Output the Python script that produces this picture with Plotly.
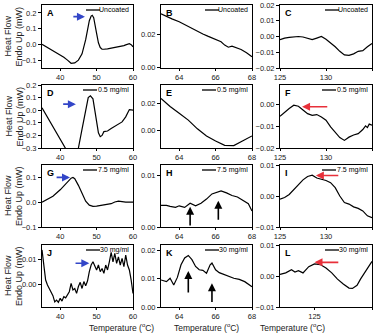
import plotly.graph_objects as go
from plotly.subplots import make_subplots

FUENTE = "Arial, Liberation Sans, sans-serif"
W, H = 378, 334

# -- Datos ----------------------------------------------------------------------
a_t = [35, 36, 37, 38, 39, 40, 41, 42, 43, 44, 45, 46, 46.5, 47, 47.5, 48, 48.5, 48.8, 49.2, 49.6, 50, 50.5, 51, 51.5,
       52, 53, 54, 55, 56, 57, 57.5, 58, 58.5, 59, 59.5, 60]
a_y = [0.0, -0.013, -0.026, -0.04, -0.052, -0.065, -0.082, -0.1, -0.12, -0.118, -0.1, -0.06, -0.02, 0.03, 0.09, 0.15,
       0.18, 0.185, 0.17, 0.13, 0.07, 0.01, -0.02, -0.03, -0.031, -0.028, -0.024, -0.02, -0.016, -0.012, -0.008,
       -0.003, 0.003, 0.004, -0.002, -0.015]

b_t = [63, 63.3, 63.6, 64, 64.3, 64.6, 65, 65.3, 65.6, 66, 66.3, 66.5, 66.7, 66.9, 67.1, 67.4, 67.7, 68]
b_y = [0.0326, 0.031, 0.0295, 0.0278, 0.026, 0.0242, 0.0216, 0.0203, 0.0188, 0.0168, 0.0155, 0.0135, 0.0122, 0.0128,
       0.0118, 0.0108, 0.0088, 0.0064]

c_t = [125, 125.5, 126, 126.5, 127, 127.5, 128, 128.5, 129, 129.5, 130, 130.5, 131, 131.5, 132, 132.5, 133, 133.5,
       134, 134.5, 135]
c_y = [-0.002, -0.001, -0.0006, -0.0004, 0.0, -0.0003, -0.001, -0.002, -0.001, 0.0, -0.0017, -0.004, -0.0065,
       -0.0094, -0.0117, -0.012, -0.011, -0.0094, -0.009, -0.0065, -0.0045]

d_t = [35, 36, 37, 38, 39, 40, 41, 42, 43, 44, 44.5, 45, 46, 47, 47.7, 48.3, 49, 49.5, 50, 50.5, 51, 51.5, 52, 53,
       54, 55, 56, 57, 58, 59, 60]
d_y = [0.02, -0.03, -0.08, -0.13, -0.18, -0.23, -0.28, -0.33, -0.38, -0.36, -0.33, -0.3, -0.15, 0.0, 0.1, 0.114,
       0.09, 0.0, -0.1, -0.18, -0.21, -0.2, -0.17, -0.165, -0.146, -0.128, -0.11, -0.093, -0.053, 0.005, 0.0]

e_t = [63, 63.5, 64, 64.5, 65, 65.5, 66, 66.5, 67, 67.5, 68]
e_y = [0.0239, 0.018, 0.013, 0.0078, 0.0013, -0.004, -0.0078, -0.011, -0.0112, -0.0078, -0.004]

f_t = [125, 125.5, 126, 126.5, 127, 127.5, 128, 128.5, 129, 129.5, 130, 130.5, 131, 131.5, 132, 132.5, 133, 133.5,
       134, 134.3, 134.5, 134.7, 135]
f_y = [-0.0054, -0.0034, -0.0018, -0.0003, -0.0008, -0.0025, -0.0042, -0.005, -0.0046, -0.0057, -0.0072, -0.0103,
       -0.013, -0.0152, -0.0165, -0.015, -0.014, -0.0134, -0.0115, -0.0098, -0.0106, -0.009, -0.0095]

g_t = [35, 37, 38, 40, 41, 42, 43, 43.5, 44, 45, 46, 47, 48, 49, 50, 52, 54, 55, 56, 57, 58, 60]
g_y = [0.0, 0.017, 0.024, 0.05, 0.065, 0.084, 0.097, 0.1, 0.095, 0.068, 0.037, 0.004, -0.012, -0.017, -0.016, -0.012,
       -0.006, 0.001, 0.004, 0.002, 0.0, 0.0]

h_t = [63, 63.3, 63.5, 63.8, 64, 64.3, 64.6, 64.9, 65.2, 65.5, 65.8, 66, 66.3, 66.6, 66.9, 67.2, 67.5, 67.8, 68]
h_y = [0.0042, 0.0042, 0.004, 0.0038, 0.0041, 0.0038, 0.0046, 0.0041, 0.0046, 0.0054, 0.0064, 0.0067, 0.007, 0.0066,
       0.0061, 0.0058, 0.0051, 0.0045, 0.0031]

i_t = [125, 125.5, 126, 126.5, 127, 127.5, 128, 128.5, 129, 129.5, 130, 130.5, 131, 131.5, 132, 132.5, 133, 133.5,
       134, 134.5, 135]
i_y = [-0.001, -0.0005, 0.0005, 0.002, 0.0036, 0.0052, 0.0063, 0.0067, 0.0058, 0.0055, 0.005, 0.0043, 0.0027, 0.0,
       -0.0021, -0.0026, -0.0035, -0.004, -0.0048, -0.0064, -0.007]

j_t = [35, 35.5, 36, 36.5, 37, 38, 38.5, 39, 39.5, 40, 40.5, 41, 41.5, 42, 42.5, 43, 43.5, 44, 44.5, 45, 45.5, 46,
       46.5, 47, 47.5, 48, 48.5, 49, 49.5, 50, 50.5, 51, 51.5, 52, 52.5, 53, 53.5, 54, 54.5, 55, 55.5, 56, 56.5, 57,
       57.5, 58, 58.5, 59, 59.5, 60]
j_y = [0.0138, 0.0077, 0.0016, -0.0004, -0.0018, -0.0047, -0.0072, -0.0065, -0.0074, -0.0058, -0.0069, -0.0051,
       -0.0056, -0.0042, -0.0031, 0.0003, -0.0024, -0.0018, -0.0038, -0.001, 0.0007, -0.0018, 0.001, -0.0007, 0.0012,
       0.005, 0.0077, 0.009, 0.007, 0.0057, 0.0077, 0.005, 0.0063, 0.0043, 0.0077, 0.0057, 0.009, 0.0128, 0.009,
       0.0124, 0.0084, 0.011, 0.0077, 0.0104, 0.007, 0.0117, 0.0077, 0.0057, 0.0016, -0.0038]

k_t = [63, 63.3, 63.5, 63.7, 63.9, 64.1, 64.3, 64.5, 64.7, 64.9, 65.1, 65.3, 65.5, 65.7, 65.8, 66, 66.2, 66.5, 66.8,
       67, 67.3, 67.6, 68]
k_y = [0.0096, 0.009, 0.0102, 0.0078, 0.0105, 0.015, 0.0174, 0.0183, 0.0168, 0.0144, 0.0132, 0.013, 0.012, 0.015,
       0.0156, 0.0132, 0.0122, 0.0114, 0.0108, 0.0102, 0.0098, 0.009, 0.0072]

l_t = [122, 122.5, 123, 123.3, 123.6, 124, 124.5, 125, 125.5, 126, 126.5, 127, 127.5, 128, 128.3, 128.7, 129, 129.5,
       130]
l_y = [0.0005, 0.001, 0.002, 0.0013, 0.0017, 0.001, 0.003, 0.0039, 0.0037, 0.0026, 0.001, -0.001, -0.0026, -0.0039,
       -0.004, -0.003, -0.001, 0.002, 0.0047]

paneles = [
    # letra, t, y, rango x, ticks x, rango y, ticks y, formato, leyenda
    ("A", a_t, a_y, [35, 60], [40, 50, 60], [-0.15, 0.25], [-0.1, 0.0, 0.1, 0.2], ".1f", "Uncoated"),
    ("B", b_t, b_y, [63, 68], [64, 66, 68], [-0.0005, 0.038], [0.0, 0.02], ".2f", "Uncoated"),
    ("C", c_t, c_y, [125, 135], [125, 130, 135], [-0.02, 0.02], [-0.02, -0.01, 0.0, 0.01, 0.02], ".2f", "Uncoated"),
    ("D", d_t, d_y, [35, 60], [40, 50, 60], [-0.3, 0.2], [-0.3, -0.2, -0.1, 0.0, 0.1, 0.2], ".1f", "0.5 mg/ml"),
    ("E", e_t, e_y, [63, 68], [64, 66, 68], [-0.013, 0.034], [0.0, 0.02], ".2f", "0.5 mg/ml"),
    ("F", f_t, f_y, [125, 135], [125, 130, 135], [-0.02, 0.009], [-0.02, -0.01, 0.0], ".2f", "0.5 mg/ml"),
    ("G", g_t, g_y, [35, 60], [40, 50, 60], [-0.1, 0.15], [-0.1, 0.0, 0.1], ".1f", "7.5 mg/ml"),
    ("H", h_t, h_y, [63, 68], [64, 66, 68], [0.0, 0.012], [0.0, 0.01], ".2f", "7.5 mg/ml"),
    ("I", i_t, i_y, [125, 135], [125, 130, 135], [-0.01, 0.01], [-0.01, 0.0, 0.01], ".2f", "7.5 mg/ml"),
    ("J", j_t, j_y, [35, 60], [40, 50, 60], [-0.0093, 0.0158], [0.0, 0.01], ".2f", "30 mg/ml"),
    ("K", k_t, k_y, [63, 68], [64, 66, 68], [0.0, 0.022], [0.0, 0.01, 0.02], ".2f", "30 mg/ml"),
    ("L", l_t, l_y, [122, 130], [125, 130], [-0.01, 0.01], [-0.01, 0.0, 0.01], ".2f", "30 mg/ml"),
]

# Flechas: (panel, x cabeza, y cabeza, x cola, y cola, color)
flechas = [
    (1, 46.8, 0.176, 43.2, 0.176, "#3346c8"),
    (4, 44.3, 0.048, 40.4, 0.048, "#3346c8"),
    (7, 42.7, 0.1, 38.6, 0.1, "#3346c8"),
    (10, 48.0, 0.0084, 43.8, 0.0084, "#3346c8"),
    (6, 127.4, -0.001, 130.3, -0.001, "#e8303a"),
    (9, 128.9, 0.0066, 131.5, 0.0066, "#e8303a"),
    (12, 125.0, 0.0044, 127.2, 0.0044, "#e8303a"),
    (8, 64.6, 0.0039, 64.6, 0.0, "black"),
    (8, 66.15, 0.0051, 66.15, 0.0011, "black"),
    (11, 64.5, 0.0128, 64.5, 0.0046, "black"),
    (11, 65.8, 0.0084, 65.8, 0.0012, "black"),
]

# -- Geometria en pixeles ------------------------------------------------------
columnas_px = [(42, 133), (161, 252), (280, 372)]
filas_px = [(5, 68), (85, 148), (165, 227), (245, 307)]
ancho_texto = {"Uncoated": 29, "0.5 mg/ml": 32, "7.5 mg/ml": 32, "30 mg/ml": 29}

fig = make_subplots(rows=4, cols=3)

for n, (letra, t, y, xr, xt, yr, yt, fmt, leyenda) in enumerate(paneles):
    fila, col = n // 3, n % 3
    idx = n + 1
    sfx = "" if idx == 1 else str(idx)
    x0, x1 = columnas_px[col]
    y0, y1 = filas_px[fila]

    fig.add_trace(go.Scatter(x=t, y=y, mode="lines", line=dict(color="black", width=1.2),
                             showlegend=False, hoverinfo="skip"), row=fila + 1, col=col + 1)

    comun = dict(showline=True, linecolor="black", linewidth=1, mirror=True, ticks="outside",
                 tickcolor="black", showgrid=False, zeroline=False, automargin=False,
                 tickfont=dict(family=FUENTE, size=7.5, color="#222"))
    fig.layout["xaxis" + sfx].update(domain=[x0 / W, x1 / W], range=xr, tickvals=xt, ticklen=2, **comun)
    fig.layout["yaxis" + sfx].update(domain=[1 - y1 / H, 1 - y0 / H], range=yr, tickvals=yt, tickformat=fmt,
                                     ticklen=3, **comun)

    xref, yref = "x" + sfx + " domain", "y" + sfx + " domain"
    pw = x1 - x0
    ph = y1 - y0
    # letra del panel
    fig.add_annotation(text="<b>" + letra + "</b>", xref=xref, yref=yref, x=3 / pw, y=1 - 1 / ph,
                       xanchor="left", yanchor="top", showarrow=False,
                       font=dict(family=FUENTE, size=9, color="black"))
    # leyenda
    tw = ancho_texto[leyenda]
    fig.add_annotation(text=leyenda, xref=xref, yref=yref, x=1 - 2 / pw, y=1 - 5 / ph, xanchor="right",
                       yanchor="middle", showarrow=False, font=dict(family=FUENTE, size=7, color="black"))
    lx1 = 1 - (4 + tw) / pw
    fig.add_shape(type="line", xref=xref, yref=yref, x0=lx1 - 14 / pw, x1=lx1, y0=1 - 5 / ph, y1=1 - 5 / ph,
                  line=dict(color="black", width=1.3))

for idx, xh, yh, xc, yc, color in flechas:
    sfx = "" if idx == 1 else str(idx)
    fig.add_annotation(x=xh, y=yh, ax=xc, ay=yc, xref="x" + sfx, yref="y" + sfx, axref="x" + sfx,
                       ayref="y" + sfx, text="", showarrow=True, arrowhead=2, arrowsize=1,
                       arrowwidth=1.6, arrowcolor=color)

# titulos de ejes (dos lineas giradas, cada una por separado)
for fila in range(4):
    y0, y1 = filas_px[fila]
    for texto, xpx in (("Heat Flow", 8), ("Endo Up (mW)", 19)):
        fig.add_annotation(text=texto, xref="paper", yref="paper", x=xpx / W, y=1 - (y0 + y1) / 2 / H,
                           xanchor="center", yanchor="middle", textangle=-90, showarrow=False,
                           font=dict(family=FUENTE, size=9, color="#222"))
for col in range(3):
    x0, x1 = columnas_px[col]
    fig.add_annotation(text="Temperature (<sup>o</sup>C)", xref="paper", yref="paper", x=(x0 + x1) / 2 / W,
                       y=0, yanchor="bottom", showarrow=False, borderpad=0,
                       font=dict(family=FUENTE, size=8.5, color="#222"))

fig.update_layout(width=W, height=H, margin=dict(l=0, r=0, t=0, b=0, autoexpand=False), plot_bgcolor="white",
                  paper_bgcolor="white", showlegend=False)

# quitar el margen por defecto del body para que la figura quede en (0,0)
fig.write_html("out.html", config={"displayModeBar": False},
               post_script="document.body.style.margin='0';document.body.style.overflow='hidden';")
